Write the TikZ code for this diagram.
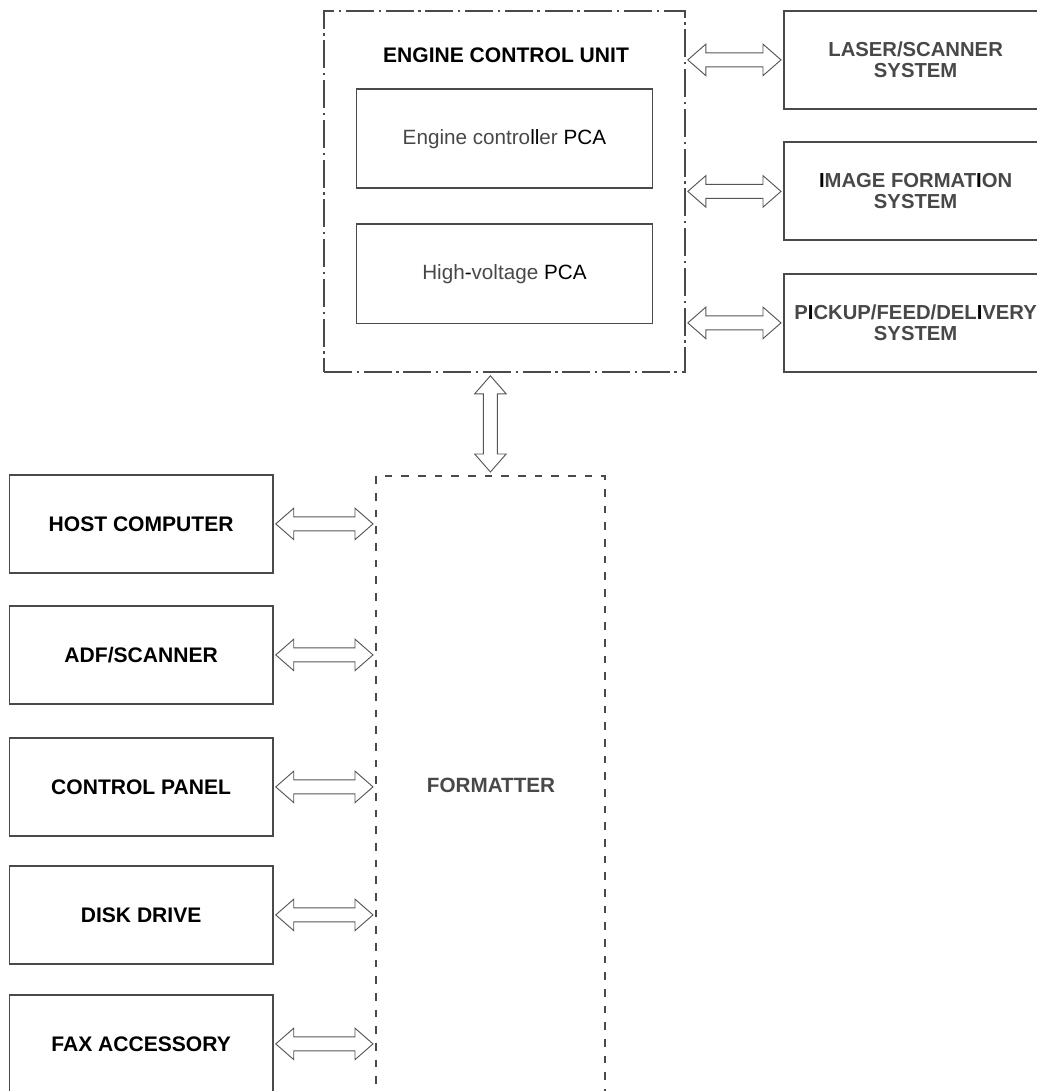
\documentclass[tikz,border=0pt]{standalone}
\usepackage{fontspec}
\setmainfont{Liberation Sans}
\usetikzlibrary{calc}
\definecolor{boxline}{HTML}{4A4A4A}
\definecolor{arrline}{HTML}{555555}
\definecolor{graytext}{HTML}{484848}
\newcommand\harrow[2]{\draw[arrowshape] let \p1=(#1), \p2=(#2) in
  (\x1+1.5pt,\y1) -- (\x1+15pt,\y1+11.8pt) -- (\x1+15pt,\y1+5.25pt) -- (\x2-15pt,\y1+5.25pt) -- (\x2-15pt,\y1+11.8pt) -- (\x2-1.5pt,\y1)
  -- (\x2-15pt,\y1-11.8pt) -- (\x2-15pt,\y1-5.25pt) -- (\x1+15pt,\y1-5.25pt) -- (\x1+15pt,\y1-11.8pt) -- cycle;}
\newcommand\varrow[2]{\draw[arrowshape] let \p1=(#1), \p2=(#2) in
  (\x1,\y1-2.25pt) -- (\x1+11.8pt,\y1-15.75pt) -- (\x1+5.25pt,\y1-15.75pt) -- (\x1+5.25pt,\y2+15.75pt) -- (\x1+11.8pt,\y2+15.75pt) -- (\x1,\y2+2.25pt)
  -- (\x1-11.8pt,\y2+15.75pt) -- (\x1-5.25pt,\y2+15.75pt) -- (\x1-5.25pt,\y1-15.75pt) -- (\x1-11.8pt,\y1-15.75pt) -- cycle;}
\begin{document}
\begin{tikzpicture}[x=0.75pt,y=-0.75pt,
  box/.style={draw=boxline,line width=1.35pt,anchor=north west,inner sep=0pt,
    minimum width=197.6pt,minimum height=73.5pt,align=center},
  leftlabel/.style={box,font=\fontsize{15.8}{18}\selectfont\bfseries,text=black},
  rightlabel/.style={box,font=\fontsize{15.2}{15.8}\selectfont\bfseries,text=graytext},
  pcabox/.style={draw=boxline,line width=1.35pt,anchor=north west,inner sep=0pt,
    minimum width=222pt,minimum height=74.25pt,font=\fontsize{15.5}{18}\selectfont,text=graytext},
  ecubox/.style={draw=boxline,line width=1.35pt,anchor=north west,inner sep=0pt,
    minimum width=270.75pt,minimum height=270.75pt,dash pattern=on 21pt off 3.5pt on 1.8pt off 3.5pt},
  fmtbox/.style={draw=boxline,line width=1.35pt,anchor=north west,inner sep=0pt,
    minimum width=171.75pt,minimum height=468.75pt,dash pattern=on 5.75pt off 6.75pt},
  arrowshape/.style={draw=arrline,line width=0.7pt,fill=white,line join=miter}]
\useasboundingbox (0,0) rectangle (1037,1091);
\clip (0,0) rectangle (1037,1091);

% Engine control unit
\node[ecubox] (ecu) at (323,10) {};
\node[font=\fontsize{15.8}{18}\selectfont\bfseries,text=black] (ecutitle) at (506,55) {ENGINE CONTROL UNIT};
\node[pcabox] (epca) at (355.5,88.5) {Engine contro\textcolor{black}{ll}er \textcolor{black}{PCA}};
\node[pcabox] (hpca) at (355.5,223.5) {High\textcolor{black}{-}voltage \textcolor{black}{PCA}};

% Right systems
\node[rightlabel] (laser) at (783,10) {LASER/SCANNER\\SYSTEM};
\node[rightlabel] (image) at (783,141.5) {\textcolor{black}{I}MAGE FORMAT\textcolor{black}{I}ON\\SYSTEM};
\node[rightlabel] (pickup) at (783,273) {P\textcolor{black}{I}CKUP/FEED/DEL\textcolor{black}{I}VERY\\SYSTEM};

% Formatter
\node[fmtbox] (fmt) at (375,475) {};
\node[font=\fontsize{15.5}{18}\selectfont\bfseries,text=graytext] (fmttext) at (491,785) {FORMATTER};

% Left devices
\node[leftlabel] (host) at (8.5,474) {HOST COMPUTER};
\node[leftlabel] (adf) at (8.5,605) {ADF/SCANNER};
\node[leftlabel] (panel) at (8.5,737) {CONTROL PANEL};
\node[leftlabel] (disk) at (8.5,865) {DISK DRIVE};
\node[leftlabel] (fax) at (8.5,994) {FAX ACCESSORY};

% Connectors
\harrow{ecu.east |- laser.west}{laser.west}
\harrow{ecu.east |- image.west}{image.west}
\harrow{ecu.east |- pickup.west}{pickup.west}
\varrow{ecu.south -| fmt.north}{fmt.north}
\harrow{host.east}{host.east -| fmt.west}
\harrow{adf.east}{adf.east -| fmt.west}
\harrow{panel.east}{panel.east -| fmt.west}
\harrow{disk.east}{disk.east -| fmt.west}
\harrow{fax.east}{fax.east -| fmt.west}
\end{tikzpicture}
\end{document}
